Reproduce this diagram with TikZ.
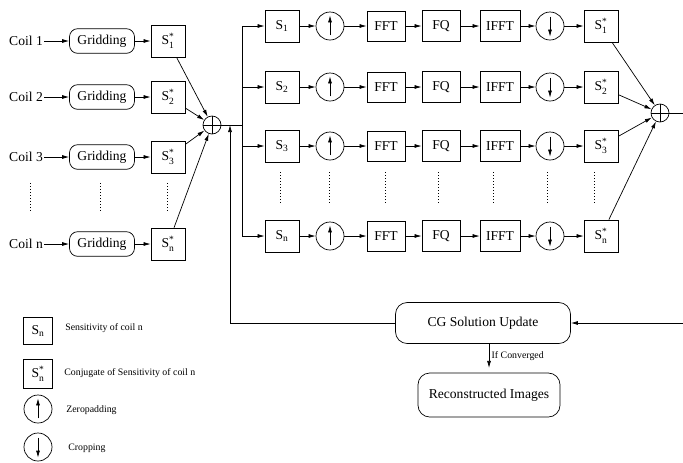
\documentclass[tikz,border=0pt]{standalone}
\usepackage{amsmath}
\usepackage{fontspec}
\setmainfont{Liberation Serif}
\usetikzlibrary{arrows.meta, calc, positioning}
\newcommand{\sens}[1]{S$_{\text{#1}}$}
\newcommand{\sconj}[1]{S$^{\text{*}}_{\text{#1}}$}
\tikzset{
    blk/.style = {draw, line width=.6pt, minimum width=1.02cm, minimum height=.96cm, inner sep=1pt},
    gridbox/.style = {draw, line width=.6pt, rounded corners=7pt, minimum width=1.95cm, minimum height=.74cm, inner sep=1pt},
    bigbox/.style = {draw, line width=.6pt, rounded corners=10pt, inner sep=1pt},
    upcell/.style = {circle, draw, line width=.6pt, minimum size=.84cm, inner sep=0pt,
        path picture = {\draw[->] ($(path picture bounding box.south)+(0,.14cm)$) -- ($(path picture bounding box.north)+(0,-.1cm)$);}},
    downcell/.style = {circle, draw, line width=.6pt, minimum size=.84cm, inner sep=0pt,
        path picture = {\draw[->] ($(path picture bounding box.north)+(0,-.14cm)$) -- ($(path picture bounding box.south)+(0,.1cm)$);}},
    sumcell/.style = {circle, draw, line width=.6pt, minimum size=.54cm, inner sep=0pt,
        path picture = {\draw (path picture bounding box.north) -- (path picture bounding box.south)
                              (path picture bounding box.west) -- (path picture bounding box.east);}},
    lgtext/.style = {anchor=west, inner sep=0pt, font=\fontsize{8.4}{10}\selectfont},
}

\begin{document}
\begin{tikzpicture}[x=0.03cm, y=-0.03cm, line width=.6pt, >={Latex[length=6pt,width=3.4pt]},
    font=\fontsize{11.6}{13}\selectfont]
\useasboundingbox (0,0) rectangle (683,462);

% adders
\node[sumcell] (sumL) at (212,125) {};
\node[sumcell] (sumR) at (660,113) {};
\coordinate (br) at (242,125);
\coordinate (fb) at (230,125);
\coordinate (out) at (683,113);
\coordinate (in) at (683,323);

% coils
\foreach \r/\y in {1/41, 2/97, 3/157, n/244} {
    \node[inner sep=1pt] (coil\r) at (26,\y) {Coil \r};
    \node[gridbox] (g\r) at (102,\y) {Gridding};
    \node[blk] (c\r) at (168,\y) {\sconj{\r}};
    \draw[->] (coil\r) -- (g\r);
    \draw[->] (g\r) -- (c\r);
    \draw[->] (c\r) -- (sumL);
}
\foreach \x in {30,100,167}
    \draw[dotted] (\x,183) -- (\x,213);

% branches
\draw (sumL) -- (br);
\draw (br |- 0,26) -- (br |- 0,236);
\foreach \r/\y in {1/26, 2/87, 3/146, n/236} {
    \node[blk] (s\r) at (282,\y) {\sens{\r}};
    \node[upcell] (u\r) at (330,\y) {};
    \node[blk, minimum width=1.14cm, minimum height=.9cm] (fft\r) at (386,\y) {FFT};
    \node[blk, minimum width=1.14cm, minimum height=.92cm] (fq\r) at (441,\y) {FQ};
    \node[blk, minimum width=1.2cm, minimum height=.92cm] (ifft\r) at (500,\y) {IFFT};
    \node[downcell] (d\r) at (550,\y) {};
    \node[blk] (sc\r) at (601,\y) {\sconj{\r}};
    \draw[->] (br |- s\r) -- (s\r);
    \draw[->] (s\r) -- (u\r);
    \draw[->] (u\r) -- (fft\r);
    \draw[->] (fft\r) -- (fq\r);
    \draw[->] (fq\r) -- (ifft\r);
    \draw[->] (ifft\r) -- (d\r);
    \draw[->] (d\r) -- (sc\r);
    \draw[->] (sc\r) -- (sumR);
}
\foreach \x in {280,329,385,438,493,547,594}
    \draw[dotted] (\x,172) -- (\x,205);
\draw (sumR) -- (out);

% update loop
\node[bigbox, minimum width=5.25cm, minimum height=1.23cm] (cg) at (483,323) {CG Solution Update};
\node[bigbox, minimum width=4.26cm, minimum height=1.32cm] (rec) at (489,395) {Reconstructed Images};
\draw[->] (cg.west) -| (fb);
\draw[->] (in) -- (cg.east);
\draw[->] (cg.south -| rec.north) -- ([yshift=4pt]rec.north)
    node[midway, right, inner sep=2pt, font=\fontsize{8.4}{10}\selectfont] {If Converged};

% legend
\node[blk, minimum width=.87cm, minimum height=.81cm] (lgS) at (38,331) {\sens{n}};
\node[lgtext] (lgS-t) at (65,328) {Sensitivity of coil n};
\node[blk, minimum width=.87cm, minimum height=.87cm] (lgC) at (38,374) {\sconj{n}};
\node[lgtext] (lgC-t) at (64,373) {Conjugate of Sensitivity of coil n};
\node[upcell] (lgU) at (38,409) {};
\node[lgtext] (lgU-t) at (66,410) {Zeropadding};
\node[downcell] (lgD) at (38,447) {};
\node[lgtext] (lgD-t) at (68,448) {Cropping};
\end{tikzpicture}
\end{document}
